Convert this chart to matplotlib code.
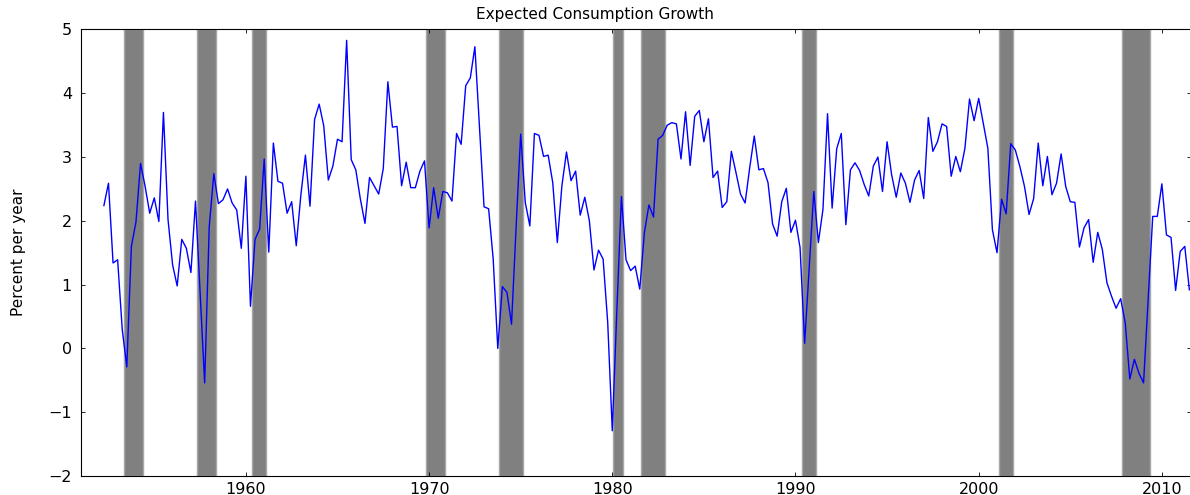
import numpy as np
import matplotlib
matplotlib.use("Agg")
import matplotlib.pyplot as plt

# quarterly series, first point 1952Q2
start_year = 1952.25
growth = [
    2.24, 2.59, 1.34,
    1.39, 0.30, -0.29, 1.60,
    1.98, 2.90, 2.54, 2.12,
    2.36, 1.99, 3.70, 2.02,
    1.31, 0.98, 1.71, 1.57,
    1.19, 2.31, 0.87, -0.54,
    1.91, 2.74, 2.27, 2.33,
    2.50, 2.28, 2.17, 1.57,
    2.70, 0.66, 1.71, 1.87,
    2.97, 1.51, 3.22, 2.62,
    2.59, 2.12, 2.30, 1.61,
    2.40, 3.03, 2.23, 3.59,
    3.83, 3.49, 2.64, 2.86,
    3.28, 3.24, 4.83, 2.96,
    2.80, 2.34, 1.96, 2.68,
    2.55, 2.42, 2.82, 4.18,
    3.47, 3.48, 2.55, 2.92,
    2.52, 2.52, 2.78, 2.94,
    1.89, 2.52, 2.04, 2.46,
    2.44, 2.31, 3.37, 3.20,
    4.12, 4.24, 4.73, 3.49,
    2.22, 2.19, 1.40, 0.00,
    0.97, 0.88, 0.38, 1.90,
    3.36, 2.29, 1.92, 3.37,
    3.34, 3.01, 3.03, 2.60,
    1.66, 2.55, 3.08, 2.63,
    2.78, 2.09, 2.37, 2.00,
    1.23, 1.54, 1.40, 0.41,
    -1.29, 0.60, 2.38, 1.39,
    1.22, 1.29, 0.93, 1.81,
    2.25, 2.06, 3.28, 3.34,
    3.50, 3.54, 3.52, 2.97,
    3.71, 2.87, 3.64, 3.73,
    3.24, 3.60, 2.68, 2.78,
    2.21, 2.30, 3.09, 2.76,
    2.42, 2.28, 2.83, 3.33,
    2.80, 2.82, 2.60, 1.95,
    1.76, 2.30, 2.51, 1.82,
    2.01, 1.58, 0.08, 1.27,
    2.46, 1.66, 2.18, 3.68,
    2.20, 3.13, 3.37, 1.94,
    2.80, 2.91, 2.79, 2.57,
    2.39, 2.86, 3.00, 2.46,
    3.24, 2.72, 2.37, 2.75,
    2.59, 2.29, 2.64, 2.79,
    2.35, 3.62, 3.09, 3.24,
    3.52, 3.48, 2.70, 3.01,
    2.77, 3.14, 3.91, 3.57,
    3.92, 3.53, 3.14, 1.86,
    1.50, 2.34, 2.11, 3.21,
    3.11, 2.85, 2.54, 2.10,
    2.35, 3.22, 2.55, 3.01,
    2.41, 2.59, 3.05, 2.54,
    2.30, 2.29, 1.59, 1.89,
    2.02, 1.35, 1.82, 1.55,
    1.03, 0.82, 0.63, 0.78,
    0.40, -0.48, -0.17, -0.39,
    -0.54, 0.76, 2.07, 2.07,
    2.58, 1.78, 1.74, 0.91,
    1.52, 1.60, 0.92,
]
dates = start_year + 0.25 * np.arange(len(growth))

# recession periods (start, end)
rec_start = [1953.35, 1957.33, 1960.33, 1969.83, 1973.83, 1980.06, 1981.57, 1990.34, 2001.09, 2007.84]
rec_end = [1954.37, 1958.35, 1961.10, 1970.85, 1975.11, 1980.60, 1982.86, 1991.10, 2001.85, 2009.35]

W, H = 1190, 495
fig = plt.figure(figsize=(W / 100, H / 100), dpi=100)
ax = fig.add_axes([81 / W, 1 - 476 / H, 1110 / W, 446.5 / H])

for a, b in zip(rec_start, rec_end):
    ax.axvspan(a, b, facecolor='#808080', edgecolor='#a8a8a8', linewidth=1.0, zorder=1)

ax.plot(dates, growth, color='#0000ff', linewidth=1.0, zorder=3)

ax.set_xlim(1951.0, 1951.0 + 1110 / 18.32)
ax.set_ylim(-2, 5)
ax.set_xticks([1960, 1970, 1980, 1990, 2000, 2010])
ax.set_yticks(range(-2, 6))

ax.tick_params(direction='in', length=3, width=0.6, top=True, right=True,
               labelsize=11.5, colors='black')
ax.tick_params(axis='y', pad=6.5)
ax.tick_params(axis='x', pad=4.5)
for s in ax.spines.values():
    s.set_linewidth(0.8)
    s.set_zorder(5)

fig.text(0.5, 0.97, 'Expected Consumption Growth', ha='center', va='center', fontsize=11)
fig.text(19 / W, 1 - 252 / H, 'Percent per year', rotation=90, ha='center', va='center',
         fontsize=11, family=['Liberation Sans Narrow', 'DejaVu Sans Condensed', 'DejaVu Sans'])

fig.savefig('out.png', dpi=100)
